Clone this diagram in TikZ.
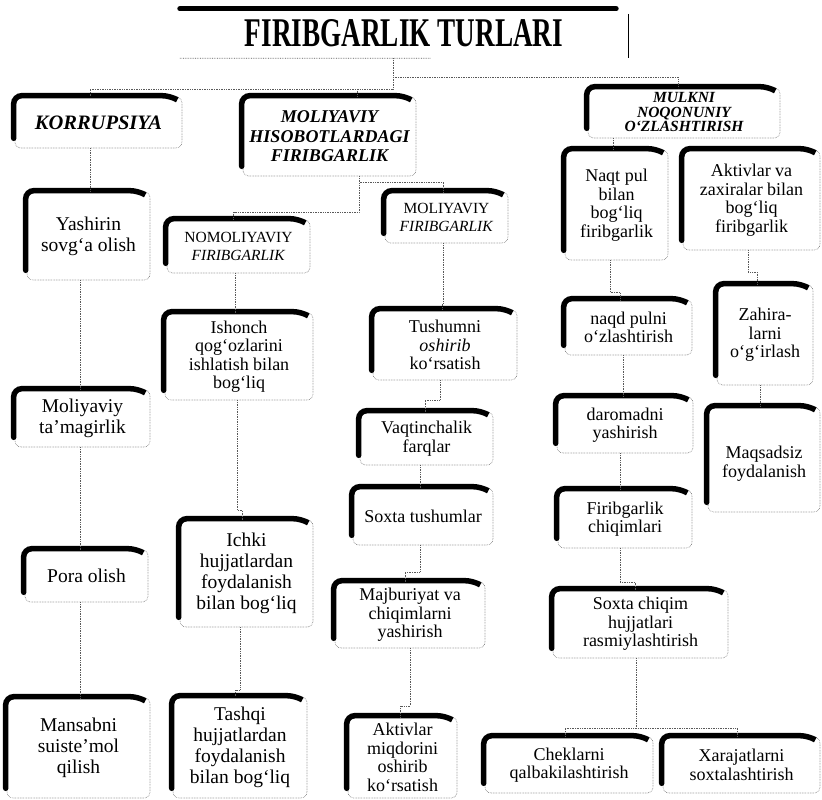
\documentclass[tikz,border=0pt]{standalone}
\usepackage{fontspec}
\usepackage{graphicx}
\setmainfont{Liberation Serif}
\usetikzlibrary{calc}
\tikzset{
  box/.style={draw=black!55, densely dotted, line width=0.6pt, rounded corners=6pt,
    align=center, inner sep=0pt, fill=white, font=\fontsize{18}{18.5}\selectfont},
  bigtext/.style={font=\fontsize{19.5}{21}\selectfont},
  conn/.style={draw=black!65, densely dotted, line width=0.7pt},
  thickL/.style={line width=5.5pt, line cap=round, rounded corners=8pt, draw=black},
}
\newcommand\lframe[1]{\draw[thickL] ($(#1.south west)+(-1,-10)$) -- ($(#1.north west)+(-1,-1)$) -- ($(#1.north east)+(-12,-1)$) -- ++(5,3);}
\newcommand\vc[3]{\coordinate (tA) at ([xshift=#2pt]#1.south); \draw[conn] (tA) -- (tA |- #3.north);}
\newcommand\jc[5]{\coordinate (tA) at ([xshift=#2pt]#1.south); \coordinate (tB) at ([xshift=#4pt]#3.north); \coordinate (tY) at (0,#5); \draw[conn] (tA) -- (tA |- tY) -- (tB |- tY) -- (tB);}
\begin{document}
\begin{tikzpicture}[x=1pt,y=-1pt]
\fill[white] (0,0) rectangle (822,800);
\useasboundingbox (0,0) rectangle (822,800);

% title
\node[inner sep=0pt, minimum width=448pt, minimum height=49pt] (title) at (404,33.5)
  {\resizebox{318pt}{27pt}{\bfseries FIRIBGARLIK TURLARI}};
\draw[line width=5pt, line cap=round] (title.north west) -- ([xshift=-12pt]title.north east);
\draw[line width=1pt] ([yshift=-5pt]title.north east) -- (title.south east);
\draw[conn] (title.south west) -- ($(title.south west)!0.56!(title.south east)$);

% level 1
\node[box, minimum width=167pt, minimum height=51pt, font=\fontsize{20.5}{22}\selectfont\bfseries\itshape] (korr) at (98.5,122.5) {KORRUPSIYA};
\node[box, minimum width=173pt, minimum height=79pt, font=\fontsize{18}{19.5}\selectfont\bfseries\itshape] (hisob) at (329.5,136.5) {MOLIYAVIY\\HISOBOTLARDAGI\\FIRIBGARLIK};
\node[box, minimum width=192pt, minimum height=50pt, font=\fontsize{15.5}{14.5}\selectfont\bfseries\itshape] (mulk) at (684,113) {\raisebox{0pt}[9pt][0pt]{MULKNI}\\NOQONUNIY\\O‘ZLASHTIRISH};

% left column
\node[box, bigtext, minimum width=123pt, minimum height=88pt] (yash) at (88.5,236) {Yashirin\\sovg‘a olish};
\node[box, bigtext, minimum width=135pt, minimum height=57pt] (tama) at (82.5,418.5) {Moliyaviy\\ta’magirlik};
\node[box, bigtext, minimum width=123pt, minimum height=52pt] (pora) at (86.5,576) {Pora olish};
\node[box, bigtext, minimum width=143pt, minimum height=100pt] (mans) at (78.5,748) {Mansabni\\suiste’mol\\qilish};

% nomoliyaviy column
\node[box, minimum width=143pt, minimum height=53pt, font=\fontsize{15.5}{18}\selectfont] (nomol) at (238.5,246.5) {NOMOLIYAVIY\\\textit{FIRIBGARLIK}};
\node[box, minimum width=148pt, minimum height=87pt] (ishon) at (239,356.5) {Ishonch\\qog‘ozlarini\\ishlatish bilan\\bog‘liq};
\node[box, bigtext, minimum width=133pt, minimum height=107pt] (ichki) at (246.5,573.5) {Ichki\\hujjatlardan\\foydalanish\\bilan bog‘liq};
\node[box, bigtext, minimum width=134pt, minimum height=101pt] (tash) at (240,747.5) {Tashqi\\hujjatlardan\\foydalanish\\bilan bog‘liq};

% moliyaviy column
\node[box, minimum width=123pt, minimum height=51pt, font=\fontsize{15.5}{18}\selectfont] (molf) at (446.5,217.5) {MOLIYAVIY\\\textit{FIRIBGARLIK}};
\node[box, minimum width=144pt, minimum height=70pt] (tush) at (445,345) {Tushumni\\\textit{oshirib}\\ko‘rsatish};
\node[box, minimum width=133pt, minimum height=53pt] (vaqt) at (426.5,438.5) {Vaqtinchalik\\farqlar};
\node[box, minimum width=140pt, minimum height=57pt] (soxt) at (423,516.5) {Soxta tushumlar};
\node[box, minimum width=150pt, minimum height=66pt] (majb) at (410,615) {Majburiyat va\\chiqimlarni\\yashirish};
\node[box, minimum width=109pt, minimum height=81pt] (aktm) at (402.5,757.5) {Aktivlar\\miqdorini\\oshirib\\ko‘rsatish};

% right columns
\node[box, minimum width=103pt, minimum height=110pt] (naqt) at (616.5,205) {Naqt pul\\bilan\\bog‘liq\\firibgarlik};
\node[box, minimum width=137pt, minimum height=100pt] (aktz) at (751.5,200) {Aktivlar va\\zaxiralar bilan\\bog‘liq\\firibgarlik};
\node[box, minimum width=127pt, minimum height=55pt] (naqd) at (628.5,327.5) {naqd pulni\\o‘zlashtirish};
\node[box, minimum width=136pt, minimum height=56pt] (daro) at (625,425) {daromadni\\yashirish};
\node[box, minimum width=134pt, minimum height=58pt] (firc) at (625,519) {Firibgarlik\\chiqimlari};
\node[box, minimum width=175pt, minimum height=68pt] (soxc) at (640.5,624) {Soxta chiqim\\hujjatlari\\rasmiylashtirish};
\node[box, minimum width=168pt, minimum height=56pt] (chek) at (569,765) {Cheklarni\\qalbakilashtirish};
\node[box, minimum width=157pt, minimum height=56pt] (xara) at (741.5,765) {Xarajatlarni\\soxtalashtirish};
\node[box, minimum width=96pt, minimum height=100pt] (zahi) at (765,335) {Zahira-\\larni\\o‘g‘irlash};
\node[box, minimum width=112pt, minimum height=105pt] (maqs) at (764,459.5) {\\[2pt]Maqsadsiz\\foydalanish};

% thick frames
\foreach \n in {korr,hisob,mulk,yash,tama,pora,mans,nomol,ishon,ichki,tash,molf,tush,vaqt,soxt,majb,aktm,naqt,aktz,naqd,daro,firc,soxc,chek,xara,zahi,maqs}{\lframe{\n}}

% connectors from title
\coordinate (ts) at ([xshift=-11pt]title.south);
\coordinate (yA) at (0,77);
\coordinate (yB) at (0,89);
\draw[conn] (ts) -- (ts |- yA) -| ([xshift=-6pt]mulk.north);
\draw[conn] (ts |- yA) -- (ts |- yB) -| ([xshift=-8.5pt]korr.north);
\coordinate (hk) at ([xshift=27.5pt]hisob.north);
\draw[conn] (hk |- yB) -- (hk);

% hisobot branches
\coordinate (hb) at ([xshift=30pt]hisob.south);
\coordinate (y1) at (0,212);
\coordinate (y2) at (0,182);
\draw[conn] (hb) -- (hb |- y1) -| ([xshift=-5pt]nomol.north);
\draw[conn] (hb |- y2) -| ([xshift=-3pt]molf.north);

% left column
\vc{korr}{-8.5}{yash}
\vc{yash}{-8.5}{tama}
\vc{tama}{-2.5}{pora}
\vc{pora}{-6.5}{mans}

% nomoliyaviy column
\vc{nomol}{-3.5}{ishon}
\jc{ishon}{-2}{ichki}{-4.5}{510}
\jc{ichki}{-6.5}{tash}{-5}{690}

% moliyaviy column
\jc{molf}{-3.5}{tush}{-3}{304}
\jc{tush}{-5}{vaqt}{-1.5}{400}
\vc{vaqt}{-6.5}{soxt}
\jc{soxt}{-3}{majb}{-5}{572}
\jc{majb}{0}{aktm}{-2.5}{706}

% right columns
\vc{mulk}{-71}{naqt}
\jc{naqt}{-6.5}{naqd}{-8.5}{292}
\vc{naqd}{-5.5}{daro}
\vc{daro}{-5}{firc}
\jc{firc}{-5}{soxc}{-5.5}{582}
\coordinate (sc) at ([xshift=-4.5pt]soxc.south);
\coordinate (y3) at (0,728);
\draw[conn] (sc) -- (sc |- y3);
\draw[conn] ([xshift=-4pt]chek.north) |- (sc |- y3) -| ([xshift=-4.5pt]xara.north);
\jc{aktz}{-3.5}{zahi}{-8}{272}
\vc{zahi}{-5}{maqs}
\end{tikzpicture}
\end{document}
